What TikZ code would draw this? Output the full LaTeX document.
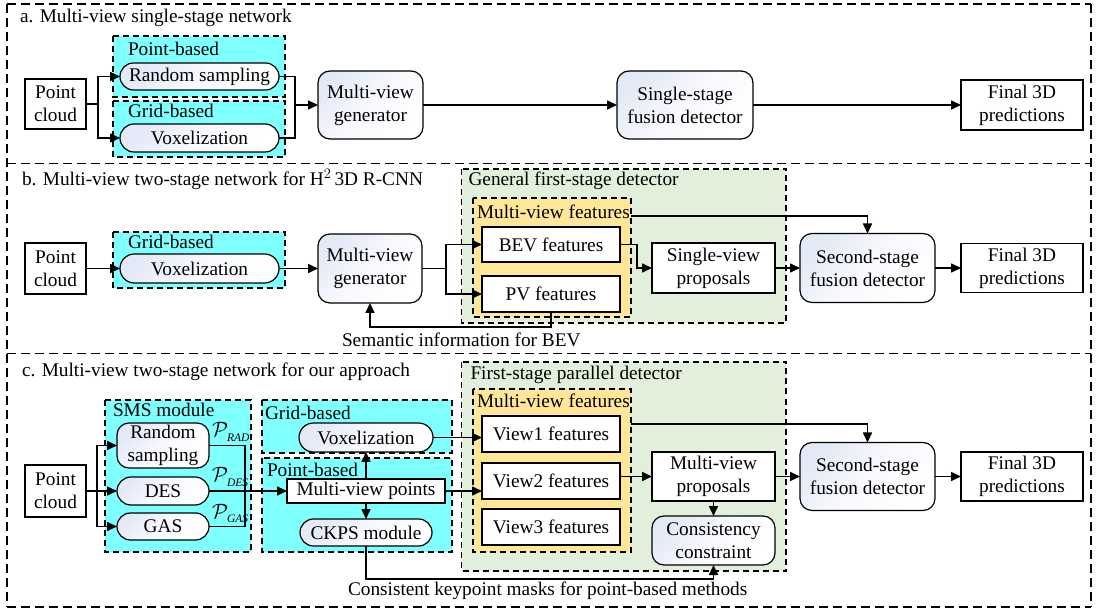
\documentclass[tikz,border=0pt]{standalone}
\usepackage{fontspec}
\setmainfont{Liberation Serif}
\usetikzlibrary{arrows.meta,shapes.misc,calc}
\definecolor{cyanfill}{RGB}{128,255,255}
\definecolor{greenfill}{RGB}{226,239,218}
\definecolor{orangefill}{RGB}{255,230,153}
\definecolor{gshade}{RGB}{228,233,247}
\newcommand{\psub}[1]{$\mathcal{P}$\kern-1pt\raisebox{-4.5pt}{\fontsize{11.5}{12}\selectfont\itshape #1}}
\begin{document}
\begin{tikzpicture}[x=1pt,y=-1pt,
  font=\fontsize{19.3}{23}\selectfont,
  every node/.style={inner sep=0pt, outer sep=0pt},
  plainbox/.style={draw, line width=1.2pt, fill=white, align=center},
  roundbox/.style={draw, line width=1.2pt, rounded corners=12pt, top color=gshade, bottom color=white, middle color=white!75!gshade, shading angle=45, align=center},
  pillbox/.style={draw, line width=1.2pt, rounded rectangle, top color=gshade, bottom color=white, middle color=white!75!gshade, shading angle=45, align=center},
  cyanzone/.style={draw, line width=1.1pt, dash pattern=on 6pt off 4pt, fill=cyanfill},
  greenzone/.style={draw, line width=1.1pt, dash pattern=on 6pt off 4pt, fill=greenfill},
  orangezone/.style={draw, line width=1.1pt, dash pattern=on 6pt off 4pt, fill=orangefill},
  panelline/.style={line width=1.3pt, dash pattern=on 9pt off 5pt},
  conn/.style={line width=1.6pt},
  arr/.style={conn, -{Triangle[length=10pt,width=9pt]}},
  lbl/.style={anchor=base west}
]
\useasboundingbox (0,0) rectangle (1096,612);
\fill[white] (0,0) rectangle (1096,612);

% panel borders
\draw[panelline] (7,4) -- (1091,4);
\draw[panelline] (7,163.5) -- (1091,163.5);
\draw[panelline] (7,353.5) -- (1091,353.5);
\draw[panelline] (7,607) -- (1091,607);
\draw[panelline] (7,4) -- (7,607);
\draw[panelline] (1091,4) -- (1091,607);

% zones
\draw[cyanzone] (113,36) rectangle (285,97);
\draw[cyanzone] (113,101) rectangle (285,157);
\draw[cyanzone] (113,232) rectangle (285,288);
\draw[greenzone] (461.5,169) rectangle (786,323);
\draw[orangezone] (473,198) rectangle (631,317);
\draw[cyanzone] (105,400) rectangle (251,552);
\draw[cyanzone] (262,400) rectangle (452,453);
\draw[cyanzone] (262,458) rectangle (452,552);
\draw[greenzone] (461.5,362) rectangle (786,571);
\draw[orangezone] (473,389) rectangle (631,552);

% ---------- panel a ----------
\node[lbl] (ta) at (20,23) {a. Multi-view single-stage network};
\node[lbl] (pba) at (128,56) {Point-based};
\node[lbl] (gba) at (128,118) {Grid-based};
\node[plainbox, minimum width=61pt, minimum height=50pt] (pca) at (55.5,104) {Point\\cloud};
\node[pillbox, minimum width=159pt, minimum height=27pt] (rsa) at (199.5,76.5) {Random sampling};
\node[pillbox, minimum width=159pt, minimum height=28pt] (voxa) at (199.5,138) {Voxelization};
\node[roundbox, minimum width=105pt, minimum height=68pt] (mvga) at (370.5,105) {Multi-view\\generator};
\node[roundbox, minimum width=136pt, minimum height=68pt] (ssfda) at (685,105) {Single-stage\\fusion detector};
\node[plainbox, minimum width=122pt, minimum height=50pt] (fina) at (1022,105) {Final 3D\\predictions};

\coordinate (ja) at (98,104);
\draw[conn] (pca.east) -- (ja);
\draw[arr] (ja) |- (rsa.west);
\draw[arr] (ja) |- (voxa.west);
\coordinate (ma) at (295,105);
\draw[conn] (rsa.east) -| (ma);
\draw[conn] (voxa.east) -| (ma);
\draw[arr] (ma) -- (mvga.west);
\draw[arr] (mvga.east) -- (ssfda.west);
\draw[arr] (ssfda.east) -- (fina.west);

% ---------- panel b ----------
\node[lbl] (tb) at (22,186) {b. Multi-view two-stage network for H$^{2}$\,3D R-CNN};
\node[lbl] (gbb) at (128,249) {Grid-based};
\node[lbl] (gfd) at (468.5,186) {General first-stage detector};
\node[lbl] (mvfb) at (477,219) {Multi-view features};
\node[lbl] (sem) at (342,347) {Semantic information for BEV};
\node[plainbox, minimum width=61pt, minimum height=51pt] (pcb) at (55.5,268.5) {Point\\cloud};
\node[pillbox, minimum width=159pt, minimum height=29pt] (voxb) at (199.5,268.5) {Voxelization};
\node[roundbox, minimum width=104pt, minimum height=69pt] (mvgb) at (370,268.5) {Multi-view\\generator};
\node[plainbox, minimum width=138pt, minimum height=35pt] (bev) at (551,244.5) {BEV features};
\node[plainbox, minimum width=138pt, minimum height=36pt] (pv) at (551,294) {PV features};
\node[plainbox, minimum width=123pt, minimum height=50pt] (svp) at (713.5,268) {Single-view\\proposals};
\node[roundbox, minimum width=135pt, minimum height=69pt] (ssfdb) at (867.5,268) {Second-stage\\fusion detector};
\node[plainbox, minimum width=122pt, minimum height=49pt] (finb) at (1022,268) {Final 3D\\predictions};

\draw[arr] (pcb.east) -- (voxb.west);
\draw[arr] (voxb.east) -- (mvgb.west);
\coordinate (jb) at (446,268.5);
\draw[conn] (mvgb.east) -- (jb);
\draw[arr] (jb) |- (bev.west);
\draw[arr] (jb) |- (pv.west);
\coordinate (kb) at (637,268);
\draw[arr] (bev.east) -| (kb) -- (svp.west);
\coordinate (ob) at (631,216);
\draw[arr] (ob) -| (ssfdb.north);
\draw[arr] (svp.east) -- (ssfdb.west);
\draw[arr] (ssfdb.east) -- (finb.west);
\draw[arr] (pv.south) -- ++(0,15) -| (mvgb.south);

% ---------- panel c ----------
\node[lbl] (tc) at (22,377) {c. Multi-view two-stage network for our approach};
\node[lbl] (sms) at (113,417) {SMS module};
\node[lbl] (gbc) at (265,420) {Grid-based};
\node[lbl] (pbc) at (267,476) {Point-based};
\node[lbl] (fpd) at (470.5,380) {First-stage parallel detector};
\node[lbl] (mvfc) at (477,408) {Multi-view features};
\node[lbl] (ckm) at (348,595) {Consistent keypoint masks for point-based methods};
\node[plainbox, minimum width=61pt, minimum height=52pt] (pcc) at (55.5,491) {Point\\cloud};
\node[roundbox, minimum width=92pt, minimum height=45pt] (rsc) at (163,445.5) {Random\\sampling};
\node[pillbox, minimum width=92pt, minimum height=28pt] (des) at (163,491) {DES};
\node[pillbox, minimum width=92pt, minimum height=27pt] (gas) at (163,526.5) {GAS};
\node[anchor=base west] (prad) at (212,437) {\psub{RAD}};
\node[anchor=base west] (pdes) at (212,482) {\psub{DES}};
\node[anchor=base west] (pgas) at (212,518) {\psub{GAS}};
\node[pillbox, minimum width=134pt, minimum height=29pt] (voxc) at (366,437.5) {Voxelization};
\node[plainbox, minimum width=158pt, minimum height=24pt] (mvp) at (366,491) {Multi-view points};
\node[pillbox, minimum width=132pt, minimum height=27pt] (ckps) at (366,532.5) {CKPS module};
\node[plainbox, minimum width=138pt, minimum height=36pt] (v1) at (551,434) {View1 features};
\node[plainbox, minimum width=138pt, minimum height=36pt] (v2) at (551,481) {View2 features};
\node[plainbox, minimum width=138pt, minimum height=36pt] (v3) at (551,527) {View3 features};
\node[plainbox, minimum width=123pt, minimum height=49pt] (mvpr) at (713.5,476.5) {Multi-view\\proposals};
\node[roundbox, minimum width=123pt, minimum height=49pt] (cc) at (713.5,540.5) {Consistency\\constraint};
\node[roundbox, minimum width=135pt, minimum height=68pt] (ssfdc) at (867.5,476.5) {Second-stage\\fusion detector};
\node[plainbox, minimum width=122pt, minimum height=49pt] (finc) at (1022,476.5) {Final 3D\\predictions};

\coordinate (jc) at (97,491);
\draw[conn] (pcc.east) -- (jc);
\draw[arr] (jc) |- (rsc.west);
\draw[arr] (jc) -- (des.west);
\draw[arr] (jc) |- (gas.west);
\coordinate (mc) at (245,491);
\draw[conn] (rsc.east) -| (mc);
\draw[conn] (gas.east) -| (mc);
\draw[arr] (des.east) -- (mvp.west);
\draw[arr] (mvp.north) -- (voxc.south);
\draw[arr] (mvp.south) -- (ckps.north);
\draw[arr] (voxc.east) -- (voxc.east -| v1.west);
\draw[arr] (mvp.east) -- (mvp.east -| v2.west);
\draw[arr] (v2.east |- mvpr.west) -- (mvpr.west);
\draw[arr] (mvpr.south) -- (cc.north);
\coordinate (oc) at (631,424);
\draw[arr] (oc) -| (ssfdc.north);
\draw[arr] (mvpr.east) -- (ssfdc.west);
\draw[arr] (ssfdc.east) -- (finc.west);
\draw[arr] (ckps.south) -- ++(0,33) -| (cc.south);
\end{tikzpicture}
\end{document}
